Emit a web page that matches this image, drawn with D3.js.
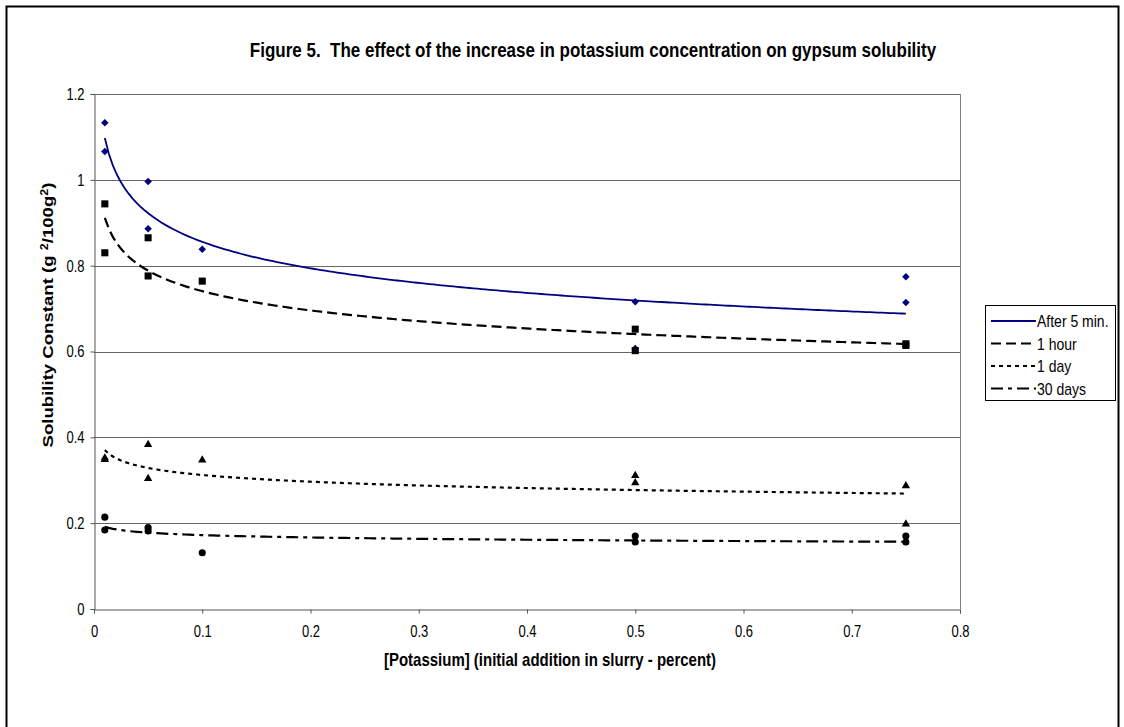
<!DOCTYPE html>
<html>
<head>
<meta charset="utf-8">
<script src="https://cdn.jsdelivr.net/npm/d3@7"></script>
<style>
  html, body { margin: 0; padding: 0; background: #fff; }
  svg { display: block; font-family: "Liberation Sans", Arial, sans-serif; }
</style>
</head>
<body>
<svg id="chart" width="1124" height="727"></svg>
<script>
// Potassium addition (%) for each measurement
const potassium = [0.01, 0.01, 0.05, 0.05, 0.1, 0.5, 0.5, 0.75, 0.75];

// Solubility constant readings (g²/100g²) at each curing time
const after5min  = [1.133, 1.066, 0.996, 0.886, 0.838, 0.716, 0.607, 0.774, 0.714];
const oneHour    = [0.944, 0.830, 0.865, 0.776, 0.764, 0.652, 0.602, 0.618, 0.614];
const oneDay     = [0.352, 0.348, 0.383, 0.304, 0.347, 0.311, 0.294, 0.287, 0.198];
const thirtyDays = [0.214, 0.184, 0.190, 0.182, 0.131, 0.170, 0.156, 0.170, 0.156];

const seriesNames = ["After 5 min.", "1 hour", "1 day", "30 days"];
const xTicks = [0, 0.1, 0.2, 0.3, 0.4, 0.5, 0.6, 0.7, 0.8];
const yTicks = [0, 0.2, 0.4, 0.6, 0.8, 1, 1.2];

const svg = d3.select("#chart");
const FONT = "'Liberation Sans', Arial, sans-serif";
const TALL = 1.2;   // text is drawn slightly elongated vertically

// outer chart border
svg.append("rect")
  .attr("x", 6.5).attr("y", 6.5)
  .attr("width", 1112).attr("height", 740)
  .attr("fill", "none").attr("stroke", "#000").attr("stroke-width", 2);

const plot = { left: 94, right: 960, top: 94, bottom: 609 };
const x = d3.scaleLinear().domain([0, 0.8]).range([plot.left, plot.right]);
const y = d3.scaleLinear().domain([0, 1.2]).range([plot.bottom, plot.top]);

// horizontal gridlines
svg.append("g").selectAll("line").data(yTicks.filter(d => d > 0)).join("line")
  .attr("x1", plot.left).attr("x2", plot.right)
  .attr("y1", d => Math.round(y(d)) + 0.5).attr("y2", d => Math.round(y(d)) + 0.5)
  .attr("stroke", "#666").attr("stroke-width", 1);

// right frame edge
svg.append("line")
  .attr("x1", plot.right + 0.5).attr("x2", plot.right + 0.5)
  .attr("y1", plot.top).attr("y2", plot.bottom)
  .attr("stroke", "#808080");

// axes
const fmt = d => String(+d.toFixed(1));
const yAxis = d3.axisLeft(y).tickValues(yTicks).tickSize(4).tickFormat(fmt);
const xAxis = d3.axisBottom(x).tickValues(xTicks).tickSize(4).tickFormat(fmt);

const gy = svg.append("g").attr("transform", `translate(${plot.left + 0.5},0)`).call(yAxis);
const gx = svg.append("g").attr("transform", `translate(0,${plot.bottom + 0.5})`).call(xAxis);
[gx, gy].forEach(g => {
  g.select(".domain").attr("stroke", "#555");
  g.selectAll(".tick line").attr("stroke", "#555");
  g.selectAll("text").attr("font-size", 13).attr("fill", "#000").attr("font-family", FONT);
});
gy.selectAll(".tick text")
  .attr("x", 0).attr("y", 0).attr("dy", "0.35em")
  .attr("transform", `translate(-10,0) scale(1,${TALL})`);
gx.selectAll(".tick text")
  .attr("x", 0).attr("y", 0).attr("dy", 0)
  .attr("transform", `translate(0,27) scale(1,${TALL})`);

// power-law trendline (least squares in log-log space)
function powerFit(xs, ys) {
  const lx = xs.map(Math.log), ly = ys.map(Math.log);
  const mx = d3.mean(lx), my = d3.mean(ly);
  const b = d3.sum(lx, (v, i) => (v - mx) * (ly[i] - my)) / d3.sum(lx, v => (v - mx) ** 2);
  const a = Math.exp(my - b * mx);
  return t => a * Math.pow(t, b);
}

const series = [
  { name: seriesNames[0], values: after5min,  color: "#000080", width: 1.8, dash: null,       marker: "diamond" },
  { name: seriesNames[1], values: oneHour,    color: "#000",    width: 2.2, dash: "10,5",     marker: "square" },
  { name: seriesNames[2], values: oneDay,     color: "#000",    width: 2.2, dash: "4,4",      marker: "triangle" },
  { name: seriesNames[3], values: thirtyDays, color: "#000",    width: 2.2, dash: "12,5,4,5", marker: "circle" }
];

const [xMin, xMax] = d3.extent(potassium);
const samples = d3.range(0, 201).map(i => xMin + (xMax - xMin) * i / 200);
const line = d3.line().x(d => x(d[0])).y(d => y(d[1]));

// trendlines
series.forEach(s => {
  const f = powerFit(potassium, s.values);
  svg.append("path")
    .attr("d", line(samples.map(t => [t, f(t)])))
    .attr("fill", "none").attr("stroke", s.color)
    .attr("stroke-width", s.width)
    .attr("stroke-dasharray", s.dash);
});

// markers
const squareDiamond = {
  draw(ctx, size) {
    const r = Math.sqrt(size / 2);
    ctx.moveTo(0, -r); ctx.lineTo(r, 0); ctx.lineTo(0, r); ctx.lineTo(-r, 0); ctx.closePath();
  }
};
const symbolType = {
  diamond: squareDiamond, square: d3.symbolSquare,
  triangle: d3.symbolTriangle, circle: d3.symbolCircle
};
const symbolSize = { diamond: 28, square: 50, triangle: 30, circle: 40 };
series.forEach(s => {
  svg.append("g").selectAll("path").data(s.values).join("path")
    .attr("transform", (v, i) => `translate(${x(potassium[i])},${y(v)})`)
    .attr("d", d3.symbol().type(symbolType[s.marker]).size(symbolSize[s.marker]))
    .attr("fill", s.color);
});

// title
svg.append("text")
  .attr("transform", `translate(593,57) scale(1,${TALL})`)
  .attr("text-anchor", "middle")
  .attr("font-size", 17).attr("font-weight", "bold")
  .attr("xml:space", "preserve")
  .text("Figure 5.  The effect of the increase in potassium concentration on gypsum solubility");

// x-axis title
svg.append("text")
  .attr("transform", `translate(550,666) scale(1,${TALL})`)
  .attr("text-anchor", "middle")
  .attr("font-size", 15).attr("font-weight", "bold")
  .text("[Potassium] (initial addition in slurry - percent)");

// y-axis title with superscripts
const yt = svg.append("text")
  .attr("transform", `translate(53,315) scale(1,${TALL}) rotate(-90)`)
  .attr("text-anchor", "middle")
  .attr("font-size", 15.5).attr("font-weight", "bold");
yt.append("tspan").text("Solubility Constant (g ");
yt.append("tspan").attr("font-size", 10.5).attr("dy", -5).text("2");
yt.append("tspan").attr("dy", 5).text("/100g");
yt.append("tspan").attr("font-size", 10.5).attr("dy", -5).text("2");
yt.append("tspan").attr("dy", 5).text(")");

// legend
const lg = svg.append("g");
lg.append("rect")
  .attr("x", 985.5).attr("y", 305.5).attr("width", 130).attr("height", 95)
  .attr("fill", "#fff").attr("stroke", "#000").attr("stroke-width", 1);
series.forEach((s, i) => {
  const ly = 321 + i * 22.5;
  lg.append("line")
    .attr("x1", 991).attr("x2", 1036).attr("y1", ly).attr("y2", ly)
    .attr("stroke", s.color).attr("stroke-width", s.width)
    .attr("stroke-dasharray", s.dash);
  lg.append("text")
    .attr("transform", `translate(1037,${ly}) scale(1,${TALL})`)
    .attr("dy", "0.36em")
    .attr("font-size", 14)
    .text(s.name);
});
</script>
</body>
</html>
